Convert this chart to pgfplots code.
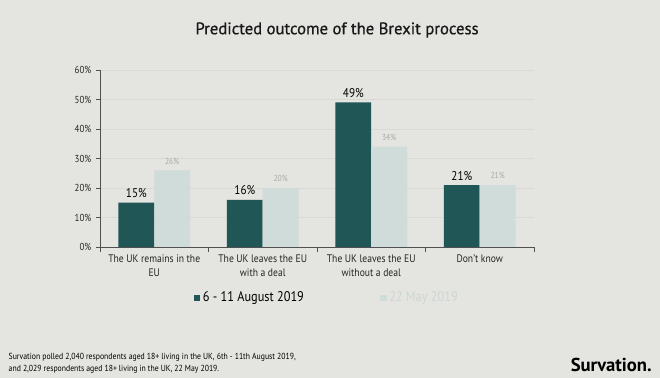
\documentclass[border=0pt]{standalone}
\usepackage{pgfplots}
\pgfplotsset{compat=1.18}
\usepackage{fontspec}
\setmainfont{PT Sans}
\newfontfamily\narrow{PT Sans}[FakeStretch=0.88, Ligatures=TeX]
\newfontfamily\titlefont{PT Sans}[FakeBold=0.8]
\definecolor{bg}{HTML}{E4E4E0}
\definecolor{darkbar}{HTML}{215656}
\definecolor{lightbar}{HTML}{D0DCDA}
\definecolor{gridc}{HTML}{D8D8D4}
\definecolor{axisc}{HTML}{505050}
\definecolor{lightlbl}{HTML}{A9A9A6}
\definecolor{legl}{HTML}{CDD6D4}
\begin{document}
\begin{tikzpicture}[x=1pt,y=1pt]
\fill[bg] (0,0) rectangle (495,283.5);
\begin{axis}[
  at={(75pt,98.25pt)}, anchor=south west,
  scale only axis, width=325.5pt, height=132.75pt,
  xmin=-0.5, xmax=3.5, ymin=0, ymax=60,
  axis x line=bottom, axis y line=left,
  axis line style={-, axisc, line width=0.6pt},
  ytick={0,10,20,30,40,50,60},
  yticklabels={0\%,10\%,20\%,30\%,40\%,50\%,60\%},
  yticklabel style={font=\narrow\fontsize{7.6}{8}\selectfont, text=black!85},
  ymajorgrids, grid style={gridc, line width=0.6pt},
  tick align=outside,
  ytick style={axisc, line width=0.5pt},
  major tick length=3pt,
  xtick={0,1,2,3},
  xticklabels={{The UK remains in the\\EU},{The UK leaves the EU\\with a deal},{The UK leaves the EU\\without a deal},{Don't know}},
  xticklabel style={font=\narrow\fontsize{8.2}{10.8}\selectfont, align=center, text=black!85, yshift=1pt},
  xtick style={draw=none},
  extra x ticks={-0.5,0.5,1.5,2.5,3.5},
  extra x tick labels={},
  extra x tick style={grid=none, xtick style={draw=axisc, line width=0.5pt}, major tick length=4pt},
  ybar=0pt, bar width=0.33,
  legend style={at={(0.523,-0.288)}, anchor=center, draw=none, fill=none,
    legend columns=2, font=\narrow\fontsize{10.5}{12}\selectfont,
    /tikz/every even column/.append style={column sep=55pt}},
  legend image code/.code={\fill[#1,draw=none] (0pt,-2.5pt) rectangle (5pt,2.5pt);},
]
\addplot[fill=darkbar, draw=none, bar shift=-0.165,
  nodes near coords={\pgfmathprintnumber[assume math mode=true]{\pgfplotspointmeta}\%},
  every node near coord/.append style={font=\narrow\fontsize{9.5}{10}\selectfont, text=black, yshift=0pt}]
  coordinates {(0,15) (1,16) (2,49) (3,21)};
\addplot[fill=lightbar, draw=none, bar shift=0.165,
  nodes near coords={\pgfmathprintnumber[assume math mode=true]{\pgfplotspointmeta}\%},
  every node near coord/.append style={font=\narrow\fontsize{6.5}{7}\selectfont, text=lightlbl, yshift=1pt}]
  coordinates {(0,26) (1,20) (2,34) (3,21)};
\legend{\textcolor{black}{6 - 11 August 2019},\textcolor{legl}{22 May 2019}}
\end{axis}
\node[font=\titlefont\fontsize{12.5}{14}\selectfont, text=black!90] at (252.75,261) {Predicted outcome of the Brexit process};
\node[font=\narrow\fontsize{6.6}{8.4}\selectfont, align=left, anchor=west, text=black] at (3,11) {Survation polled 2,040 respondents aged 18+ living in the UK, 6th - 11th August 2019,\\and 2,029 respondents aged 18+ living in the UK, 22 May 2019.};
\node[font=\bfseries\fontsize{14}{16}\selectfont, anchor=east, inner sep=0pt] at (489,9.75) {Survation.};
\pgfresetboundingbox
\useasboundingbox (0,0) rectangle (495,283.5);
\end{tikzpicture}
\end{document}
